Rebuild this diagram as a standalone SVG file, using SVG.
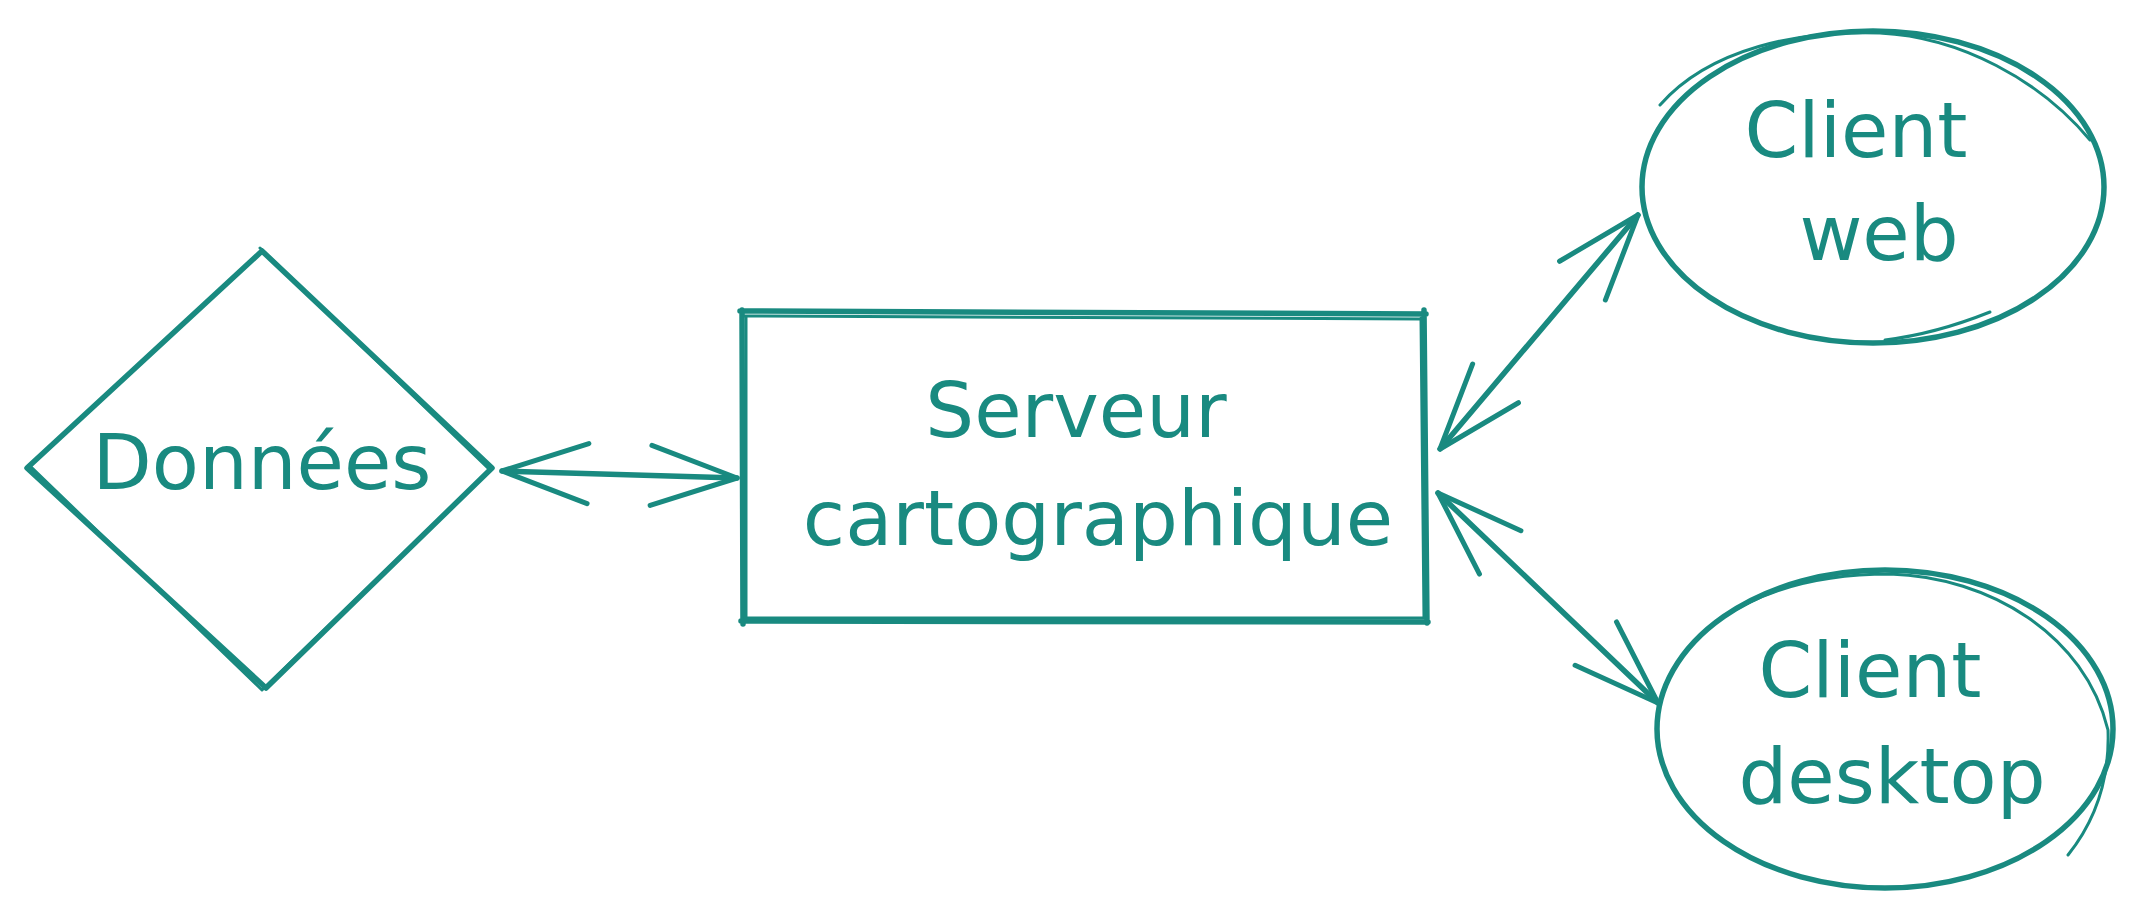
<svg xmlns="http://www.w3.org/2000/svg" width="2142" height="915" viewBox="0 0 2142 915">
<style>
.s{fill:none;stroke:#198a80;stroke-width:5.5;stroke-linecap:round;stroke-linejoin:round}
.s2{fill:none;stroke:#198a80;stroke-width:3;stroke-linecap:round;stroke-linejoin:round}
.t{font-family:"DejaVu Sans","Liberation Sans",sans-serif;fill:#198a80;text-anchor:middle;font-size:77px}
</style>
<defs>
<marker id="ah" markerUnits="userSpaceOnUse" markerWidth="200" markerHeight="200" refX="0" refY="0" orient="auto-start-reverse" overflow="visible" viewBox="-100 -100 200 200">
<path d="M -86 -30 L 0 0 L -86 30" fill="none" stroke="#198a80" stroke-width="5" stroke-linecap="round" stroke-linejoin="round"/>
</marker>
</defs>
<rect width="2142" height="915" fill="#ffffff"/>
<g id="donnees">
<path class="s" d="M262,251 L492,468 L266,688 L27,468 Z"/>
<path class="s2" d="M260,248 L490,470 L262,690 L29,465"/>
<text class="t" x="262" y="489">Données</text>
</g>
<g id="serveur">
<path class="s" d="M740,311 L1426,314 M1424,310 L1427,623 M1428,622 L741,621 M743,624 L742,310"/>
<path class="s2" d="M743,316 L1422,319 M1421,318 L1424,618 M1423,618 L745,618 M746,619 L746,316"/>
<text class="t" x="1076" y="437">Serveur</text>
<text class="t" x="1098" y="545">cartographique</text>
</g>
<g id="client-web">
<ellipse class="s" cx="1873" cy="187" rx="231" ry="156"/>
<path class="s2" d="M1660,105 C1710,48 1800,30 1880,33 C1960,37 2040,80 2090,140"/>
<path class="s2" d="M1990,312 C1955,326 1918,336 1885,340"/>
<text class="t" x="1856" y="157">Client</text>
<text class="t" x="1879" y="260">web</text>
</g>
<g id="client-desktop">
<ellipse class="s" cx="1885" cy="729" rx="228" ry="159"/>
<path class="s2" d="M1712,625 C1765,585 1830,574 1890,574 C1990,577 2085,635 2108,730 C2110,785 2092,825 2068,855"/>
<text class="t" x="1870" y="697">Client</text>
<text class="t" x="1892" y="803">desktop</text>
</g>
<g id="connectors">
<line class="s" x1="502" y1="471" x2="737" y2="478" marker-start="url(#ah)" marker-end="url(#ah)"/>
<line class="s" x1="1440" y1="449" x2="1638" y2="215" marker-start="url(#ah)" marker-end="url(#ah)"/>
<line class="s" x1="1438" y1="493" x2="1658" y2="703" marker-start="url(#ah)" marker-end="url(#ah)"/>
</g>
</svg>
